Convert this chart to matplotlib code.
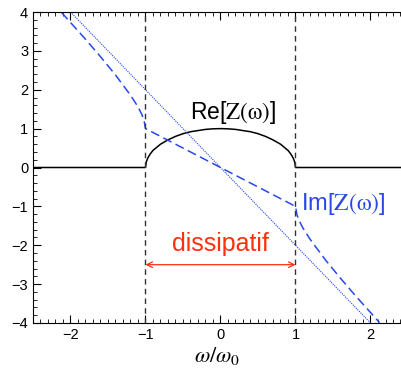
import matplotlib.pyplot as plt
import numpy as np
from matplotlib.ticker import MultipleLocator

plt.rcParams['mathtext.fontset'] = 'stix'
plt.rcParams['font.family'] = ['Liberation Sans', 'DejaVu Sans']

# Re[Z] : nul hors de |w|<1, demi-arc entre -1 et 1
re_x = [-2.5, -1.0, -0.99, -0.97, -0.94, -0.9, -0.8, -0.7, -0.6, -0.5, -0.4, -0.3, -0.2, -0.1, 0.0,
        0.1, 0.2, 0.3, 0.4, 0.5, 0.6, 0.7, 0.8, 0.9, 0.94, 0.97, 0.99, 1.0, 2.5]
re_y = [0.0, 0.0, 0.14, 0.24, 0.34, 0.44, 0.60, 0.71, 0.80, 0.87, 0.92, 0.95, 0.98, 0.995, 1.0,
        0.995, 0.98, 0.95, 0.92, 0.87, 0.80, 0.71, 0.60, 0.44, 0.34, 0.24, 0.14, 0.0, 0.0]

# Im[Z] (tirets bleus)
im_x = [-2.12, -2.0, -1.8, -1.6, -1.4, -1.2, -1.1, -1.05, -1.02, -1.0,
        1.0, 1.02, 1.05, 1.1, 1.2, 1.4, 1.6, 1.8, 2.0, 2.12]
im_y = [3.99, 3.73, 3.30, 2.85, 2.38, 1.86, 1.56, 1.37, 1.22, 1.0,
        -1.0, -1.22, -1.37, -1.56, -1.86, -2.38, -2.85, -3.30, -3.73, -3.99]

# droite pointillee
lin_x = [-2.0, 2.0]
lin_y = [4.0, -4.0]

bornes = [-1.0, 1.0]

blue = '#2848e8'
red = '#ff3010'

fig = plt.figure(figsize=(4.02, 3.69), dpi=100)
ax = fig.add_axes([33/402, 46/369, 1 - 33/402, 311/369])

ax.plot(re_x, re_y, color='black', lw=1.1)
ax.plot(im_x, im_y, color=blue, lw=1.1, dashes=(6, 3))
ax.plot(lin_x, lin_y, color=blue, lw=0.8, ls=(0, (1, 1)))
for b in bornes:
    ax.plot([b, b], [-4, 4], color='#333333', lw=1.0, dashes=(4, 3))

ax.text(0.17, 1.41, r'Re[$\mathrm{Z(\omega)}$]', fontsize=16.5, ha='center', va='center')
ax.text(1.07, -0.93, r'Im[$\mathrm{Z(\omega)}$]', fontsize=17, ha='left', va='center', color=blue)
ax.text(0.0, -1.98, 'dissipatif', fontsize=18, ha='center', va='center', color=red)
ax.annotate('', xy=(-1.0, -2.5), xytext=(1.0, -2.5),
            arrowprops=dict(arrowstyle='<->', color=red, lw=0.9, shrinkA=0, shrinkB=0))

ax.set_xlim(-2.5, 2.42)
ax.set_ylim(-4, 4)
ax.xaxis.set_major_locator(MultipleLocator(1))
ax.xaxis.set_minor_locator(MultipleLocator(0.1))
ax.yaxis.set_major_locator(MultipleLocator(1))
ax.yaxis.set_minor_locator(MultipleLocator(0.2))
ax.tick_params(which='both', direction='in', top=True, right=False, labelsize=10.5)
ax.tick_params(which='major', length=6)
ax.tick_params(which='minor', length=3)
ax.spines['right'].set_visible(False)
ax.set_xlabel(r'$\omega/\omega_0$', fontsize=16, labelpad=2)

fig.savefig('out.png', dpi=100)
